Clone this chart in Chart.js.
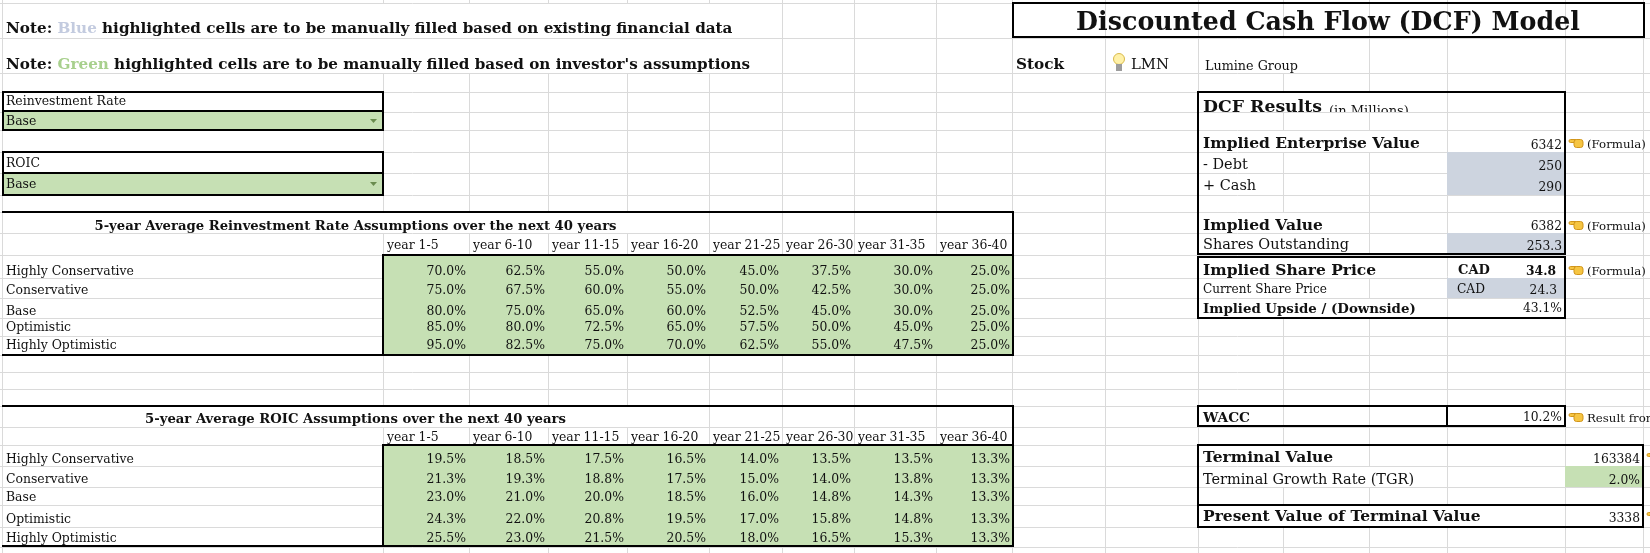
<!DOCTYPE html>
<html>
<head>
<meta charset="utf-8">
<title>Discounted Cash Flow (DCF) Model</title>
<script src="https://cdn.jsdelivr.net/npm/chart.js@4.4.1/dist/chart.umd.min.js"></script>
<style>
  html, body { margin: 0; padding: 0; background: #fff; }
  #wrap { width: 1650px; height: 553px; }
</style>
</head>
<body>
<div id="wrap"><canvas id="sheet" width="1650" height="553"></canvas></div>
<script>
// values
const periods = ['year 1-5', 'year 6-10', 'year 11-15', 'year 16-20', 'year 21-25', 'year 26-30', 'year 31-35', 'year 36-40'];
const scenarios = ['Highly Conservative', 'Conservative', 'Base', 'Optimistic', 'Highly Optimistic'];

const reinvestHighlyConservative = [70.0, 62.5, 55.0, 50.0, 45.0, 37.5, 30.0, 25.0];
const reinvestConservative       = [75.0, 67.5, 60.0, 55.0, 50.0, 42.5, 30.0, 25.0];
const reinvestBase               = [80.0, 75.0, 65.0, 60.0, 52.5, 45.0, 30.0, 25.0];
const reinvestOptimistic         = [85.0, 80.0, 72.5, 65.0, 57.5, 50.0, 45.0, 25.0];
const reinvestHighlyOptimistic   = [95.0, 82.5, 75.0, 70.0, 62.5, 55.0, 47.5, 25.0];

const roicHighlyConservative = [19.5, 18.5, 17.5, 16.5, 14.0, 13.5, 13.5, 13.3];
const roicConservative       = [21.3, 19.3, 18.8, 17.5, 15.0, 14.0, 13.8, 13.3];
const roicBase               = [23.0, 21.0, 20.0, 18.5, 16.0, 14.8, 14.3, 13.3];
const roicOptimistic         = [24.3, 22.0, 20.8, 19.5, 17.0, 15.8, 14.8, 13.3];
const roicHighlyOptimistic   = [25.5, 23.0, 21.5, 20.5, 18.0, 16.5, 15.3, 13.3];

const ticker = 'LMN';
const companyName = 'Lumine Group';
const currency = 'CAD';
const reinvestChoice = 'Base';
const roicChoice = 'Base';

const enterpriseValue = 6342;
const debt = 250;
const cash = 290;
const impliedValue = 6382;
const sharesOutstanding = 253.3;
const impliedSharePrice = 34.8;
const currentSharePrice = 24.3;
const impliedUpside = 43.1;
const wacc = 10.2;
const terminalValue = 163384;
const terminalGrowth = 2.0;
const pvTerminalValue = 3338;

// sheet geometry (column and row edges, in sheet pixels)
const colEdges = [2, 383, 469, 548, 627, 709, 782, 854, 936, 1013, 1105, 1198, 1283, 1369, 1447, 1565, 1643];
const rowEdges = [3, 38, 73, 92, 112, 130, 152, 173, 195, 212, 233, 255, 278, 298, 318, 336, 355, 372, 389, 406, 427, 445, 466, 487, 505, 527, 547];

const reinvestRows = [reinvestHighlyConservative, reinvestConservative, reinvestBase, reinvestOptimistic, reinvestHighlyOptimistic];
const roicRows = [roicHighlyConservative, roicConservative, roicBase, roicOptimistic, roicHighlyOptimistic];

const GREEN = '#c6e0b4';
const BLUE = '#cdd4df';
const INK = '#111';
const FACE = '"DejaVu Serif", "Liberation Serif", serif';

const sheetPlugin = {
  id: 'sheet',
  afterDraw(chart) {
    const ctx = chart.ctx;
    const xs = chart.scales.x, ys = chart.scales.y;
    const X = v => xs.getPixelForValue(v);
    const Y = v => ys.getPixelForValue(v);
    const font = (size, bold) => (bold ? 'bold ' : '') + size.toFixed(2) + 'px ' + FACE;
    const fit = (text, bold, w) => {
      ctx.font = font(100, bold);
      return 100 * w / ctx.measureText(text).width;
    };
    const colOf = v => {
      let c = 0;
      while (c < colEdges.length - 1 && colEdges[c + 1] <= v) c++;
      return c;
    };

    // font sizes fitted to widths measured on the sheet
    const sNote = fit('Note: Blue highlighted cells are to be manually filled based on existing financial data', true, 727);
    const sTitle = fit('Discounted Cash Flow (DCF) Model', true, 504);
    const sTable = fit('5-year Average Reinvestment Rate Assumptions over the next 40 years', true, 522);
    const sBody = fit('Highly Conservative', false, 128);
    const sSel = fit('Reinvestment Rate', false, 120);
    const sBold = fit('Implied Enterprise Value', true, 217);
    const sReg = fit('Shares Outstanding', false, 146);
    const sSmall = fit('Current Share Price', false, 124);
    const sUpside = fit('Implied Upside / (Downside)', true, 213);
    const sDcf = fit('DCF Results', true, 119);
    const sMill = fit('(in Millions)', false, 80);
    const sFormula = fit('(Formula)', false, 59);
    const sStock = fit('Stock', true, 48);
    const sLmn = fit('LMN', false, 38);
    const sLumine = fit('Lumine Group', false, 93);
    const sWacc = fit('WACC', true, 47);
    const sVal = fit('163384', false, 47);
    const sCadB = fit('CAD', true, 32);
    const sCad = fit('CAD', false, 28);

    const items = [];
    // text item: x,y in sheet px (y = visual centre), row = row index for overflow masking
    const put = (text, x, y, size, opt = {}) => items.push(Object.assign({ text, x, y, size, bold: false, align: 'left', color: INK }, opt));
    const pct = v => v.toFixed(1) + '%';

    const masks = [];
    const maskRow = (x1, x2, r) => masks.push([x1, x2, r]);

    // notes and header strip
    put(['Note: ', 'Blue', ' highlighted cells are to be manually filled based on existing financial data'], 6, 28, sNote,
      { bold: true, colors: [INK, '#c3cbdf', INK], row: 0 });
    put(['Note: ', 'Green', " highlighted cells are to be manually filled based on investor's assumptions"], 6, 64, sNote,
      { bold: true, colors: [INK, '#a8d08d', INK], row: 1 });
    put('Discounted Cash Flow (DCF) Model', 1328, 21, sTitle, { bold: true, align: 'center' });
    put('Stock', 1016, 64, sStock, { bold: true, row: 1 });
    put(ticker, 1131, 64, sLmn, { row: 1 });
    put(companyName, 1205, 66, sLumine, { row: 1 });

    // scenario selectors
    put('Reinvestment Rate', 6, 101, sSel);
    put(reinvestChoice, 6, 121, sSel);
    put('ROIC', 6, 163, sSel);
    put(roicChoice, 6, 184, sSel);

    // assumption tables
    const tables = [
      { title: '5-year Average Reinvestment Rate Assumptions over the next 40 years', rows: reinvestRows,
        top: 212, head: 255, bottom: 355, titleRow: 9, ty: 226, hy: 245, ry: [271, 290, 311, 327, 345] },
      { title: '5-year Average ROIC Assumptions over the next 40 years', rows: roicRows,
        top: 406, head: 445, bottom: 546, titleRow: 19, ty: 419, hy: 437, ry: [459, 479, 497, 519, 538] }
    ];
    tables.forEach(t => {
      maskRow(colEdges[0], colEdges[5], t.titleRow);
      put(t.title, (colEdges[0] + colEdges[5]) / 2, t.ty, sTable, { bold: true, align: 'center' });
      periods.forEach((p, i) => put(p, colEdges[1 + i] + 4, t.hy, sBody));
      scenarios.forEach((s, r) => {
        put(s, 6, t.ry[r], sBody);
        t.rows[r].forEach((v, i) => put(pct(v), colEdges[2 + i] - 3, t.ry[r], sBody, { align: 'right' }));
      });
    });

    // DCF results block
    const vRight = colEdges[14] + 115; // right edge of the value column
    put('DCF Results', 1203, 106, sDcf, { bold: true, row: 3, tail: { text: '(in Millions)', size: sMill, gap: 7, dy: 3 } });
    put('Implied Enterprise Value', 1203, 143, sBold, { bold: true, row: 5 });
    put(String(enterpriseValue), vRight, 145, sVal, { align: 'right' });
    put('- Debt', 1203, 164, sReg, { row: 6 });
    put(String(debt), vRight, 166, sVal, { align: 'right' });
    put('+ Cash', 1203, 185, sReg, { row: 7 });
    put(String(cash), vRight, 187, sVal, { align: 'right' });
    put('Implied Value', 1203, 225, sBold, { bold: true, row: 9 });
    put(String(impliedValue), vRight, 226, sVal, { align: 'right' });
    put('Shares Outstanding', 1203, 244, sReg, { row: 10 });
    put(sharesOutstanding.toFixed(1), vRight, 246, sVal, { align: 'right' });

    put('Implied Share Price', 1203, 270, sBold, { bold: true, row: 11 });
    put(currency, 1458, 270, sCadB, { bold: true });
    put(impliedSharePrice.toFixed(1), 1556, 271, sVal, { bold: true, align: 'right' });
    put('Current Share Price', 1203, 289, sSmall, { row: 12 });
    put(currency, 1457, 289, sCad);
    put(currentSharePrice.toFixed(1), 1557, 290, sVal, { align: 'right' });
    put('Implied Upside / (Downside)', 1203, 308, sUpside, { bold: true, row: 13 });
    put(pct(impliedUpside), vRight, 308, sVal, { align: 'right' });

    [144, 226, 271].forEach(yy => put('(Formula)', 1587, yy, sFormula));

    put('WACC', 1203, 417, sWacc, { bold: true, row: 19 });
    put(pct(wacc), vRight, 417, sVal, { align: 'right' });
    put('Result from', 1587, 418, sFormula);

    const tRight = colEdges[15] + 75;
    put('Terminal Value', 1203, 457, sBold, { bold: true, row: 21 });
    put(String(terminalValue), tRight, 459, sVal, { align: 'right' });
    put('Terminal Growth Rate (TGR)', 1203, 479, sReg, { row: 22 });
    put(pct(terminalGrowth), tRight, 480, sVal, { align: 'right' });
    put('Present Value of Terminal Value', 1203, 516, sBold, { bold: true, row: 24 });
    put(String(pvTerminalValue), tRight, 518, sVal, { align: 'right' });

    // measure items and register overflow masks (text spilling over gridlines)
    items.forEach(it => {
      ctx.font = font(it.size, it.bold);
      const parts = Array.isArray(it.text) ? it.text : [it.text];
      it.width = parts.reduce((a, p) => a + ctx.measureText(p).width, 0);
      let end = it.x + it.width;
      if (it.tail) {
        ctx.font = font(it.tail.size, false);
        end += it.tail.gap + ctx.measureText(it.tail.text).width;
      }
      if (it.row != null && it.align === 'left') {
        const c0 = colOf(it.x), c1 = colOf(end);
        if (c1 > c0) maskRow(colEdges[c0], colEdges[c1 + 1], it.row);
      }
    });

    ctx.save();
    ctx.fillStyle = '#fff';
    masks.forEach(([x1, x2, r]) => {
      ctx.fillRect(X(x1) + 1, Y(rowEdges[r]) + 1, X(x2) - X(x1) - 1, Y(rowEdges[r + 1]) - Y(rowEdges[r]) - 1);
    });

    // input-cell fills
    const fill = (color, x1, y1, x2, y2) => { ctx.fillStyle = color; ctx.fillRect(X(x1), Y(y1), X(x2) - X(x1), Y(y2) - Y(y1)); };
    fill(GREEN, 3, 112, 383, 130);
    fill(GREEN, 3, 173, 383, 195);
    tables.forEach(t => fill(GREEN, colEdges[1], t.head, colEdges[9], t.bottom));
    fill(GREEN, colEdges[15], 466, colEdges[16], 487);
    fill(BLUE, colEdges[14], 152, colEdges[15], 195);
    fill(BLUE, colEdges[14], 233, colEdges[15], 254);
    fill(BLUE, colEdges[14], 278, colEdges[15], 298);

    // dropdown markers
    ctx.fillStyle = '#6a8c4f';
    [121, 184].forEach(yy => {
      ctx.beginPath();
      ctx.moveTo(X(370), Y(yy - 2));
      ctx.lineTo(X(377), Y(yy - 2));
      ctx.lineTo(X(373.5), Y(yy + 2));
      ctx.closePath();
      ctx.fill();
    });

    // black borders
    ctx.fillStyle = '#000';
    const hl = (x1, x2, yy) => ctx.fillRect(X(x1) - 1, Y(yy) - 1, X(x2) - X(x1) + 2, 2);
    const vl = (xx, y1, y2) => ctx.fillRect(X(xx) - 1, Y(y1) - 1, 2, Y(y2) - Y(y1) + 2);
    const box = (x1, y1, x2, y2) => { hl(x1, x2, y1); hl(x1, x2, y2); vl(x1, y1, y2); vl(x2, y1, y2); };
    box(colEdges[9], 3, 1644, 37);
    box(3, 92, 383, 130); hl(3, 383, 111);
    box(3, 152, 383, 195); hl(3, 383, 173);
    tables.forEach(t => {
      hl(3, colEdges[9], t.top);
      hl(3, colEdges[9], t.bottom);
      vl(colEdges[9], t.top, t.bottom);
      hl(colEdges[1], colEdges[9], t.head);
      vl(colEdges[1], t.head, t.bottom);
    });
    box(1198, 92, 1565, 254);
    box(1198, 257, 1565, 318);
    box(1198, 406, 1565, 426); vl(colEdges[14], 406, 426);
    box(1198, 445, 1643, 527); hl(1198, 1643, 505);

    // text
    ctx.textBaseline = 'alphabetic';
    items.forEach(it => {
      ctx.font = font(it.size, it.bold);
      const base = Y(it.y) + it.size * 0.34;
      const parts = Array.isArray(it.text) ? it.text : [it.text];
      let x0 = X(it.x);
      if (it.align === 'center') x0 -= it.width / 2;
      if (it.align === 'right') x0 -= it.width;
      ctx.textAlign = 'left';
      parts.forEach((p, i) => {
        ctx.fillStyle = it.colors ? it.colors[i] : it.color;
        ctx.fillText(p, x0, base);
        x0 += ctx.measureText(p).width;
      });
      if (it.tail) {
        // clipped by the bottom of its row, as on the sheet
        ctx.save();
        ctx.beginPath();
        ctx.rect(x0, Y(rowEdges[it.row]), 300, Y(rowEdges[it.row + 1]) - Y(rowEdges[it.row]));
        ctx.clip();
        ctx.font = font(it.tail.size, false);
        ctx.fillStyle = INK;
        ctx.fillText(it.tail.text, x0 + it.tail.gap, base + it.tail.dy);
        ctx.restore();
      }
    });

    // small icons: bulb and pointing hands
    ctx.fillStyle = '#fff1a8';
    ctx.strokeStyle = '#d8b94a';
    ctx.lineWidth = 1;
    ctx.beginPath(); ctx.arc(X(1119), Y(59), 5.5, 0, Math.PI * 2); ctx.fill(); ctx.stroke();
    ctx.fillStyle = '#9c9c9c';
    ctx.fillRect(X(1116), Y(64), 6, 7);

    const hand = (hx, hy) => {
      ctx.fillStyle = '#f6c542';
      ctx.strokeStyle = '#d1951b';
      ctx.beginPath(); ctx.roundRect(X(hx), Y(hy) - 3.5, 9, 3, 1.5); ctx.fill(); ctx.stroke();
      ctx.beginPath(); ctx.roundRect(X(hx) + 5, Y(hy) - 3.5, 9, 8, 2.5); ctx.fill(); ctx.stroke();
    };
    [143, 225, 270, 417].forEach(yy => hand(1569, yy));
    [457, 516].forEach(yy => hand(1647, yy));
    ctx.restore();
  }
};

const edgeTicks = edges => scale => { scale.ticks = edges.map(v => ({ value: v })); };

new Chart(document.getElementById('sheet'), {
  type: 'scatter',
  data: { datasets: [{ data: [], pointRadius: 0 }] },
  options: {
    responsive: false,
    animation: false,
    events: [],
    layout: { padding: 0 },
    plugins: { legend: { display: false }, tooltip: { enabled: false } },
    scales: {
      x: {
        type: 'linear', min: 0, max: 1650,
        afterBuildTicks: edgeTicks(colEdges),
        afterFit: s => { s.height = 0; },
        ticks: { display: false },
        border: { display: false },
        grid: { color: '#dadada', lineWidth: 1, drawTicks: false }
      },
      y: {
        type: 'linear', min: 0, max: 553, reverse: true,
        afterBuildTicks: edgeTicks(rowEdges),
        afterFit: s => { s.width = 0; },
        ticks: { display: false },
        border: { display: false },
        grid: { color: '#dadada', lineWidth: 1, drawTicks: false }
      }
    }
  },
  plugins: [sheetPlugin]
});
</script>
</body>
</html>
